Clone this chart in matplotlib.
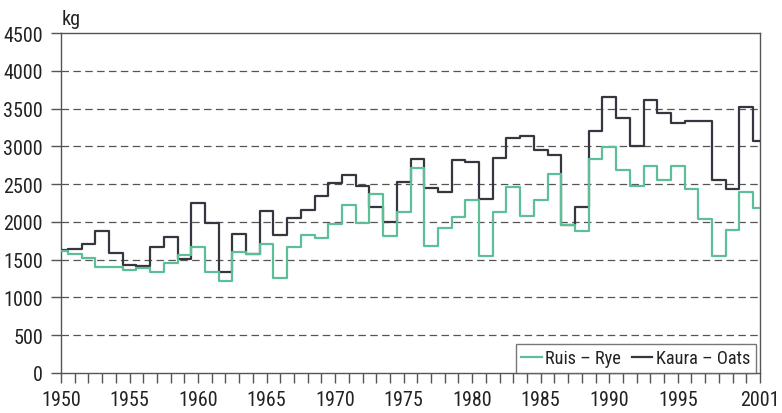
import matplotlib
matplotlib.use("Agg")
import matplotlib.pyplot as plt
import numpy as np

years = list(range(1950, 2002))
rye = [1614, 1570, 1527, 1407, 1407, 1363, 1385, 1333, 1452, 1556,
       1663, 1337, 1220, 1608, 1575, 1707, 1253, 1672, 1831, 1783,
       1972, 2223, 1981, 2369, 1809, 2127, 2709, 1685, 1915, 2069,
       2294, 1553, 2127, 2466, 2082, 2294, 2634, 1963, 1884, 2832,
       2985, 2690, 2470, 2740, 2550, 2740, 2433, 2038, 1544, 1897,
       2400, 2185]
oats = [1625, 1635, 1709, 1880, 1590, 1425, 1415, 1672, 1800, 1510,
        2250, 1981, 1341, 1840, 1575, 2148, 1828, 2058, 2161, 2347,
        2515, 2620, 2470, 2193, 2003, 2524, 2832, 2444, 2400, 2823,
        2788, 2303, 2845, 3106, 3132, 2946, 2885, 1960, 2193, 3207,
        3648, 3370, 3000, 3617, 3441, 3304, 3340, 3340, 2558, 2431,
        3516, 3066]
xtick_years = [1950, 1955, 1960, 1965, 1970, 1975, 1980, 1985, 1990, 1995, 2001]
yticks = list(range(0, 5000, 500))
labels = ["Ruis – Rye", "Kaura – Oats"]

plt.rcParams['font.family'] = ['Roboto Condensed', 'DejaVu Sans']

W, H = 782, 414
fig = plt.figure(figsize=(W / 100, H / 100), dpi=100)
ax = fig.add_axes([61 / W, 1 - 374 / H, (760 - 61) / W, (374 - 34) / H])

green = '#5dbf98'
dark = '#35363f'
textc = '#222222'

ax.step(years, oats, where='mid', color=dark, lw=1.6, label=labels[1], zorder=3)
ax.step(years, rye, where='mid', color=green, lw=1.6, label=labels[0], zorder=4)

ax.set_xlim(1950, 2001)
ax.set_ylim(0, 4500)
ax.set_yticks(yticks)
ax.set_xticks(xtick_years)
ax.set_xticks(years, minor=True)

for y in yticks[1:-1]:
    ax.axhline(y, color='#555555', lw=0.9, ls=(0, (6, 3.5)), zorder=1)

for s in ['top', 'right', 'left', 'bottom']:
    ax.spines[s].set_color('#555555')
    ax.spines[s].set_linewidth(1.0)

ax.tick_params(axis='y', direction='out', length=7.5, width=1.0, color='#555555',
               labelsize=14.5, pad=5.5, labelcolor=textc)
ax.tick_params(axis='x', which='both', direction='out', length=7, width=1.0,
               color='#555555', labelsize=14.5, pad=5.5, labelcolor=textc)

h, l = ax.get_legend_handles_labels()
leg = ax.legend(h[::-1], l[::-1], loc='lower right', ncol=2, fontsize=13.2,
                handlelength=1.1, handletextpad=0.2, columnspacing=0.6,
                frameon=True, fancybox=False, borderpad=0.3,
                bbox_to_anchor=(0.994, 0.0), borderaxespad=0.0,
                labelcolor=textc)
leg.get_frame().set_edgecolor('#555555')
leg.get_frame().set_linewidth(1.0)
leg.set_zorder(5)

fig.text(62 / W, 1 - 25 / H, 'kg', fontsize=14.5, va='baseline', ha='left', color=textc)

fig.savefig('out.png', dpi=100)
